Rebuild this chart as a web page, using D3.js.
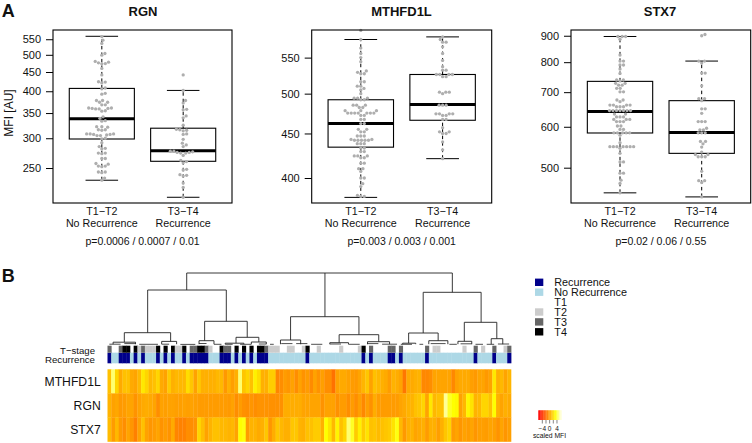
<!DOCTYPE html>
<html><head><meta charset="utf-8">
<script src="https://cdn.jsdelivr.net/npm/d3@7/dist/d3.min.js"></script>
<style>html,body{margin:0;padding:0;background:#fff}svg{display:block}text{font-family:"Liberation Sans",Arial,sans-serif;fill:#111}</style>
</head><body><svg id="c" width="752" height="443"></svg>
<script>
const groupLabels = [["T1−T2","No Recurrence"],["T3−T4","Recurrence"]];
const genes = ["RGN","MTHFD1L","STX7"];
const pTexts = ["p=0.0006 / 0.0007 / 0.01","p=0.003 / 0.003 / 0.001","p=0.02 / 0.06 / 0.55"];
const rgnTicks = [250,300,350,400,450,500,550];
const mthTicks = [400,450,500,550];
const stxTicks = [500,600,700,800,900];
// [low whisker, q1, median, q3, high whisker]
const rgnBox = [[232,298.6,338,407,560],[209,260.5,278,319,402]];
const mthBox = [[380,434,462,492,577],[421,466,486,526,581]];
const stxBox = [[447,583.6,642,734.5,897],[439,533,585,674,804]];
const rgnDots0 = [559,547,536,504,499,480,478,476,474,473,460,442,424,423,421,408,406,395,393,378,378,374,374,368,368,361,361,360,360,359,359,355,354,342,339,334,333,322,322,321,316,316,315,308,308,308,307,307,306,305,305,300,299,292,285,282,281,274,274,273,265,265,257,256,253,253,252,244,244,243,235,232];
const rgnDots1 = [442,402,378,372,358,357,344,340,325,317,316,315,314,308,307,298,291,288,285,277,277,276,275,275,274,274,270,262,260,258,248,247,240,239,238,228,222,209];
const mthDots0 = [591,577,564,556,550,544,531,529,527,527,516,516,510,510,507,505,500,494,494,494,492,492,485,485,485,482,482,478,478,478,475,475,475,475,475,475,475,472,472,467,467,462,462,455,455,452,452,447,447,447,443,443,442,442,442,442,442,438,438,438,433,433,429,429,424,424,424,422,422,416,416,410,410,407,400,400,394,391,382,381,381];
const mthDots1 = [581,577,573,573,566,556,546,537,532,532,526,526,526,526,523,523,502,502,502,500,485,485,485,474,474,474,474,472,472,467,467,457,452,452,450,450,440,431,421];
const stxDots0 = [897,897,897,886,826,804,804,790,790,776,761,739,739,736,728,728,722,722,712,712,701,701,676,676,671,661,661,661,661,656,656,656,645,645,645,645,645,645,645,635,635,627,627,627,620,620,620,614,614,614,602,602,593,593,584,584,584,584,584,578,559,549,549,549,549,549,549,549,545,533,513,513,488,488,473,466,447];
const stxDots1 = [905,900,804,804,797,762,762,720,680,680,674,650,650,637,614,614,614,596,592,592,584,584,584,562,562,556,548,536,530,530,525,525,525,492,472,472,468,439];
const tStage = [2,0,0,2,3,3,0,3,1,2,1,1,1,3,0,3,0,3,1,1,3,0,2,2,3,3,2,1,0,0,3,2,2,0,3,0,3,0,3,0,3,3,2,1,1,1,0,0,1,1,0,0,1,3,0,0,1,0,0,0,0,0,1,0,0,0,0,1,3,0,2,0,0,0,0,2,2,0,2,0,0,0,0,0,0,2,0,1,1,0,0,0,0,0,0,1,0,0,2,0,1,0,0,2,0,0,1,2];
const recurrence = [1,0,0,1,1,1,0,1,0,1,0,0,0,1,0,1,0,1,0,0,1,0,1,1,1,1,1,0,0,0,1,1,1,0,1,0,1,0,1,0,1,1,1,0,0,0,0,0,0,0,0,0,0,1,0,0,0,0,0,0,0,0,0,0,0,0,0,0,1,0,1,0,0,0,0,1,1,0,1,0,0,0,0,0,0,1,0,0,0,0,0,0,0,0,0,0,0,0,1,0,0,0,0,1,0,0,0,1];
const heatRows = ["MTHFD1L","RGN","STX7"];
const heatMTH = [.8,4.5,1.5,0,.8,.8,0,-.2,.5,2.2,1.5,.5,.8,1.5,0,-.3,1.1,.2,.5,.5,.5,1.8,1,-.3,1,.2,.2,.2,.2,.5,.5,-.6,.2,-.4,.2,4.5,1,1.5,.8,2.5,1.8,.2,.2,1.2,1.2,-1.3,-1,-.5,-.7,-.3,-1,-.3,-.8,-.5,-1.1,-.3,-.8,-.4,-1,-1,-2,-.3,0,0,-.3,-.5,-.6,-.2,.4,1,-.3,.8,.5,.2,0,-.5,.3,.1,-.2,-1.8,0,0,.2,.3,-1.2,-1.2,-1,-.2,-.2,-.2,-.2,-.2,-1.2,-.3,0,0,0,-.4,-.6,-.2,-.2,-.6,-.3,2.2,.2,.5,-.2,.4];
const heatRGN = [.3,-.3,-.1,-.6,-.5,-.2,-.2,-.8,-.3,0,.1,0,-.2,-1,-.3,-.4,-.3,-.3,-.4,-.4,-.3,-.4,-.3,-.4,-.5,-.5,-.5,-.5,-.5,-.5,-.5,-.5,-.6,-.3,-1,-.5,-.9,-1,-.7,-1,-.8,-.8,-.8,-.9,-.9,-.9,-.9,.1,.1,.1,.1,.1,-.2,-.2,-.2,-.2,-.2,-.8,-.3,-.3,-.3,-.9,-.5,-.5,-1,-.5,-1,-.4,-1.2,-.4,-.9,.1,-.5,-.5,-.5,-.5,-.5,-.5,-.2,0,.3,.3,.8,1,1.5,-.2,2.2,.5,.8,.8,5,3.5,3,2.8,-.3,.5,2.7,2,.3,.5,1.5,1.5,.8,3,.2,-.2,.2,0];
const heatSTX = [.6,-.5,.5,-.6,-1,-.2,-.7,-1.5,-.3,.8,-.3,-.7,-.5,-.2,-.8,-.5,-.8,0,-1.3,-1.4,-1.4,-1,-1,-.8,1.5,.7,-.3,.3,.8,.8,.5,.5,.3,.5,-.2,3,3.2,-.5,.3,.3,0,.2,1,-.7,.1,1,.5,.2,.2,1,1,.3,.2,.8,.8,1.2,1.2,.2,3,2,.5,2.6,.8,1.5,4.5,3.5,1.2,2.5,1.2,2,.8,1,.6,.8,1,1.2,2,3.2,.5,-.6,.2,.3,-.2,0,.2,-.5,.2,.2,-.4,.2,1,1.5,-.5,-.2,-.7,-.3,-.5,-.2,-.7,-.4,-.4,-.5,-.2,-.4,-.8,-.2,-.7,-.4];
const annotLegend = ["Recurrence","No Recurrence","T1","T2","T3","T4"];
const annotLegendColors = ["#00008b","#add8e6","#ffffff","#cccccc","#666666","#000000"];
const stageColors = ["#ffffff","#cccccc","#666666","#000000"];
const recurColors = ["#add8e6","#00008b"];
const colorbarTicks = [-4,0,4];
const colorbarMinor = [-4,-2,0,2,4];
// dendrogram: c = column position, h = merge height, k = sub-clusters
const dendro = {c:57.7,h:72,root:true,k:[
 {c:20.7,h:55,k:[
  {c:10.25,h:12.3,k:[{c:4,h:2.8,k:[1,7]},{c:16.4,h:3.6,k:[14,18]}]},
  {c:31.3,h:23.7,k:[{c:25.5,h:4.3,k:[24,28]},{c:36.9,h:7.7,k:[{c:33.9,h:1.8,k:[31,36]},{c:40,h:3,k:[38,42]}]}]}]},
 {c:57.7,h:28.3,k:[
  {c:48.5,h:5,k:[45.8,51.2]},
  {c:66.8,h:10.3,k:[{c:61.5,h:2.3,k:[59,64]},{c:72.1,h:3.3,k:[69.1,75]}]}]},
 {c:91.8,h:52.7,k:[
  {c:84,h:12,k:[{c:80.1,h:1.8,k:[78.5,82]},{c:88,h:4.3,k:[85.5,90.6]}]},
  {c:99.5,h:22.7,k:[{c:95,h:3.7,k:[93.3,97]},{c:103.7,h:6.3,k:[102.2,105.3]}]}]}
]};
const lowMerges = [[0,3,.8],[4,7,1.4],[8,13,.7],[14,16,.8],[19,23,.6],[24,26,1.5],[28,30,.7],[31,33,.7],[35,38,.7],[40,42,1],[43,44,.7],[46,49,1.4],[50,53,1.4],[54,57,.7],[59,62,1],[64,67,.7],[69,72,1.4],[73,77,.8],[78,81,.7],[83,84,.7],[86,90,1.4],[91,93,.7],[94,97,1.2],[98,100,.7],[101,103,.7],[104,107,1]];

const svg = d3.select("#c");
const fs = {title:13, tick:10.7};
function swarm(vals, y, d){
  const placed=[];
  const sorted=[...vals].sort((a,b)=>a-b);
  sorted.forEach(v=>{
    const py=y(v); let cand=[0];
    placed.forEach(p=>{const dy=Math.abs(p.py-py); if(dy<d){const dx=Math.sqrt(d*d-dy*dy)+.01;cand.push(p.px+dx,p.px-dx);}});
    cand.sort((a,b)=>Math.abs(a)-Math.abs(b));
    const px=cand.find(c=>placed.every(p=>(p.px-c)**2+(p.py-py)**2>=d*d-.001));
    placed.push({px,py});
  });
  return placed;
}
function panel(o){
  const g=svg.append("g");
  const y=d3.scaleLog().domain(o.domain).range([203,30]);
  const x=d3.scaleLinear().domain([.4,2.6]).range([o.x0,o.x0+o.w]);
  const dotsGroups=[o.d0,o.d1];
  g.append("text").attr("x",o.titleX).attr("y",16).attr("text-anchor","middle").attr("font-weight","bold").attr("font-size",fs.title).text(o.name);
  o.box.forEach((b,i)=>{
    const cx=x(i+1), bw=x(1.4)-x(1), cw=x(1.2)-x(1);
    const lg=g.append("g");
    [[b[0],b[1]],[b[3],b[4]]].forEach(s=>lg.append("line").attr("x1",cx).attr("x2",cx).attr("y1",y(s[0])).attr("y2",y(s[1])).attr("stroke","#000").attr("stroke-width",1).attr("stroke-dasharray","3.5 3"));
    [b[0],b[4]].forEach(v=>lg.append("line").attr("x1",cx-cw).attr("x2",cx+cw).attr("y1",y(v)).attr("y2",y(v)).attr("stroke","#000").attr("stroke-width",1));
    lg.append("rect").attr("x",cx-bw).attr("width",2*bw).attr("y",y(b[3])).attr("height",y(b[1])-y(b[3])).attr("fill","none").attr("stroke","#000").attr("stroke-width",1.1);
    lg.append("line").attr("x1",cx-bw).attr("x2",cx+bw).attr("y1",y(b[2])).attr("y2",y(b[2])).attr("stroke","#000").attr("stroke-width",3);
    g.selectAll(null).data(swarm(dotsGroups[i],y,3.5)).enter().append("circle").attr("cx",p=>cx+p.px).attr("cy",p=>p.py).attr("r",1.65).attr("fill","#aeaeae");
    groupLabels[i].forEach((t,j)=>g.append("text").attr("x",cx).attr("y",215+j*12.3).attr("text-anchor","middle").attr("font-size",fs.tick).text(t));
  });
  g.append("rect").attr("x",o.x0).attr("y",30).attr("width",o.w).attr("height",173).attr("fill","none").attr("stroke","#000").attr("stroke-width",1.1);
  const ax=d3.axisLeft(y).tickValues(o.ticks).tickFormat(d3.format("d")).tickSize(7).tickPadding(5);
  const ag=g.append("g").attr("transform",`translate(${o.x0},0)`).call(ax);
  ag.select(".domain").remove();
  ag.selectAll("text").attr("font-size",11).style("fill","#111");
  ag.selectAll("line").attr("stroke","#000");
  g.append("text").attr("x",o.x0+o.w/2).attr("y",245).attr("text-anchor","middle").attr("font-size",10.5).text(o.p);
}
panel({name:genes[0],x0:53,w:179,titleX:143,domain:[201.8,582],box:rgnBox,d0:rgnDots0,d1:rgnDots1,ticks:rgnTicks,p:pTexts[0]});
panel({name:genes[1],x0:311.7,w:180,titleX:401.5,box:mthBox,d0:mthDots0,d1:mthDots1,ticks:mthTicks,p:pTexts[1],domain:[400*Math.exp(-25/378),400*Math.exp(148/378)]});
panel({name:genes[2],x0:571,w:179.7,titleX:660,box:stxBox,d0:stxDots0,d1:stxDots1,ticks:stxTicks,p:pTexts[2],domain:[500*Math.exp(-35.3/224.5),500*Math.exp(137.7/224.5)]});
svg.append("text").attr("transform","translate(12.5,113) rotate(-90)").attr("text-anchor","middle").attr("font-size",12).text("MFI [AU]");
svg.append("text").attr("x",1.7).attr("y",17).attr("font-size",18).attr("font-weight","bold").text("A");
svg.append("text").attr("x",1.7).attr("y",282).attr("font-size",18).attr("font-weight","bold").text("B");

// Heatmap
const n=heatMTH.length;
const xH=d3.scaleLinear().domain([0,n]).range([107.5,511]);
const heat=d3.scaleLinear().domain([-6,3,6]).range(["#ff0000","#ffff00","#ffffe0"]).clamp(true);
const rowBand=d3.scaleBand().domain(heatRows).range([369.3,441.5]);
[heatMTH,heatRGN,heatSTX].forEach((vals,r)=>{
  svg.append("g").selectAll("rect").data(vals).enter().append("rect")
    .attr("x",(d,i)=>xH(i)).attr("width",xH(1)-xH(0)+.3).attr("y",rowBand(heatRows[r])).attr("height",rowBand.bandwidth()+.3).attr("fill",d=>heat(d));
  svg.append("text").attr("x",100.7).attr("y",rowBand(heatRows[r])+rowBand.bandwidth()/2+4.5).attr("text-anchor","end").attr("font-size",12.2).text(heatRows[r]);
});
svg.append("g").selectAll("rect").data(recurrence).enter().append("rect").attr("x",(d,i)=>xH(i)).attr("width",xH(1)-xH(0)+.4).attr("y",352.7).attr("height",10.6).attr("fill",d=>recurColors[d]);
svg.append("g").selectAll("rect").data(tStage.map((s,i)=>({s,i})).filter(d=>d.s>0)).enter().append("rect").attr("x",d=>xH(d.i)).attr("width",xH(1)-xH(0)+.4).attr("y",345.7).attr("height",7).attr("fill",d=>stageColors[d.s]);
svg.append("text").attr("x",95).attr("y",354).attr("text-anchor","end").attr("font-size",9.6).text("T−stage");
svg.append("text").attr("x",95).attr("y",362.5).attr("text-anchor","end").attr("font-size",9.7).text("Recurrence");

// Dendrogram
const yD=d3.scaleLinear().domain([0,72]).range([345,273]);
const xC=c=>xH(c+.5);
const dg=svg.append("g").attr("fill","none").attr("stroke","#222").attr("stroke-width",.9);
function drawNode(nd){
  const kids=nd.k, cs=kids.map(k=>typeof k==="number"?k:k.c);
  dg.append("path").attr("d",`M${xC(d3.min(cs))},${yD(nd.h)}H${xC(d3.max(cs))}`);
  kids.forEach(k=>{
    const c=typeof k==="number"?k:k.c, h=typeof k==="number"?.8:k.h;
    dg.append("path").attr("d",`M${xC(c)},${yD(nd.h)}V${yD(h)}`);
    if(typeof k!=="number") drawNode(k);
  });
}
drawNode(dendro);
lowMerges.forEach(m=>dg.append("path").attr("stroke-width",.8).attr("d",`M${xC(m[0])},${yD(m[2])}H${xC(m[1])}`));

// Legend
annotLegend.forEach((t,i)=>{
  const yy=d3.scaleLinear().domain([0,5]).range([282.3,331.8])(i);
  svg.append("rect").attr("x",535).attr("y",yy-3.7).attr("width",8.3).attr("height",7.4).attr("fill",annotLegendColors[i]);
  svg.append("text").attr("x",554.3).attr("y",yy+3.7).attr("font-size",10.8).text(t);
});
// Colour bar
const xB=d3.scaleLinear().domain([-6.2,6.2]).range([538.3,561]);
const cbVals=d3.range(-6.2,6.21,.4);
svg.append("g").selectAll("rect").data(cbVals).enter().append("rect").attr("x",d=>xB(d)).attr("width",xB(.5)-xB(0)).attr("y",410.3).attr("height",9.7).attr("fill",d=>heat(d));
svg.append("g").selectAll("line").data(colorbarMinor).enter().append("line").attr("x1",d=>xB(d)).attr("x2",d=>xB(d)).attr("y1",420).attr("y2",423.5).attr("stroke","#333").attr("stroke-width",.6);
svg.append("g").selectAll("text").data(colorbarTicks).enter().append("text").attr("x",d=>xB(d)).attr("y",431).attr("text-anchor","middle").attr("font-size",6.5).text(d=>d<0?"−"+(-d):d);
svg.append("text").attr("x",549.5).attr("y",437.5).attr("text-anchor","middle").attr("font-size",6.8).text("scaled MFI");
</script></body></html>
